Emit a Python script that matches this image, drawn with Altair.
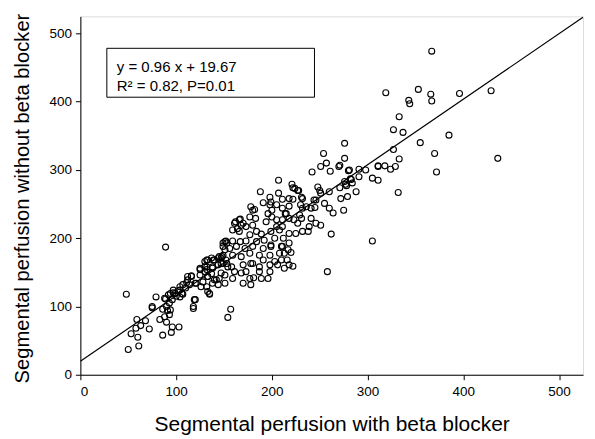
import altair as alt
import pandas as pd

# Segmental perfusion: with beta blocker (x) vs without beta blocker (y)
with_bb = [
    48, 79, 75, 59, 68, 58, 63, 53, 72, 60, 50, 61, 83, 86, 90, 96, 95, 103, 89, 75,
    89, 92, 94, 97, 93, 90, 86, 91, 94, 93, 88, 99, 102, 104, 107, 110, 111, 112, 107, 100,
    96, 104, 118, 120, 88,
    151, 153, 149, 139, 133, 144, 148, 147, 153, 125, 130, 125, 133, 137, 140, 145, 151, 144, 135, 116,
    112, 120, 114, 104, 97, 106, 119, 118,
    116, 125, 121, 126, 133, 132,
    207, 188, 207, 198, 199, 198, 191, 211, 211, 214, 178, 180, 196, 194, 205, 177, 166, 168, 161, 159,
    166, 180, 184, 177, 189, 199, 208, 203, 212, 192, 184, 173, 167, 159, 152, 149, 156, 151, 163, 172,
    180, 191, 199, 211, 208, 198, 187, 177, 168, 159, 147, 140, 132, 130, 138, 149, 158, 170, 178, 187,
    198, 206, 216, 217, 213,
    157, 154, 135, 132, 138, 128, 142, 133, 132, 138, 130, 137, 145, 149, 152, 144, 147, 159, 161, 154,
    151, 170, 178, 177, 181, 189, 196, 187, 198, 210, 218, 222, 213, 220, 210, 218, 199, 203, 191, 180,
    168, 173,
    276, 254, 276, 257, 251, 271, 242, 261, 281, 291, 298, 291, 283, 276, 221, 228, 222, 248, 250, 251,
    218, 232, 260, 271, 278, 288, 272, 279, 305, 311, 311, 205, 218, 230, 232, 236, 241, 245, 246, 255,
    260, 264, 275, 200, 200, 211, 215, 218, 223, 229, 231, 227, 241, 246, 251, 239, 232, 238, 225, 218,
    211, 205, 262,
    258, 224, 227, 222, 231, 244, 280,
    367, 319, 353, 366, 367, 396, 429, 343, 344, 333, 327, 337, 385, 355, 327, 370, 372, 333, 436, 332,
    311, 318, 324, 329, 270, 284, 282, 277, 305,
    182, 183, 162, 167, 170, 164, 173,
]
without_bb = [
    118, 114, 98, 81, 79, 68, 72, 60, 67, 55, 37, 42, 81, 58, 77, 70, 62, 70, 187, 100,
    111, 117, 119, 120, 105, 100, 96, 94, 95, 88, 85, 119, 123, 129, 132, 127, 135, 144, 118, 115,
    110, 114, 97, 110, 112,
    195, 193, 188, 168, 168, 171, 173, 163, 163, 156, 151, 146, 144, 148, 139, 141, 146, 132, 119, 144,
    139, 134, 132, 124, 124, 119, 110, 100,
    145, 154, 134, 129, 122, 158,
    285, 268, 266, 260, 253, 249, 252, 257, 244, 236, 246, 241, 236, 224, 227, 231, 227, 219, 222, 212,
    210, 219, 210, 205, 206, 210, 212, 200, 200, 197, 195, 196, 195, 196, 196, 193, 185, 183, 188, 185,
    188, 185, 190, 188, 178, 175, 175, 178, 173, 175, 171, 168, 168, 158, 158, 163, 158, 161, 163, 158,
    161, 161, 168, 183, 156,
    96, 84, 118, 129, 134, 136, 139, 144, 154, 156, 166, 171, 173, 175, 168, 161, 149, 141, 151, 158,
    134, 134, 132, 141, 142, 141, 141, 151, 151, 168, 161, 159, 178, 179, 188, 193, 188, 166, 168, 163,
    149, 151,
    339, 324, 317, 310, 305, 307, 297, 298, 300, 301, 300, 290, 286, 283, 279, 270, 274, 275, 270, 266,
    258, 258, 268, 274, 277, 268, 258, 261, 288, 285, 305, 249, 247, 249, 244, 246, 244, 245, 256, 251,
    244, 237, 241, 241, 231, 227, 236, 229, 227, 234, 229, 222, 229, 222, 219, 217, 210, 210, 207, 207,
    217, 217, 206,
    151, 273, 270, 257, 260, 256, 299,
    474, 413, 418, 411, 401, 412, 416, 402, 397, 378, 359, 355, 351, 340, 330, 324, 297, 316, 317, 267,
    306, 306, 301, 305, 305, 281, 287, 279, 196,
    242, 229, 224, 228, 222, 214, 217,
]

slope = 0.96
intercept = 19.67
x_range = [0, 525]
tick_vals = [0, 100, 200, 300, 400, 500]
label_lines = ["y = 0.96 x + 19.67", "R² = 0.82, P=0.01"]

x_title = "Segmental perfusion with beta blocker"
y_title = "Segmental perfusion without beta blocker"

df = pd.DataFrame({"bb": with_bb, "nobb": without_bb})
line_df = pd.DataFrame({"bb": x_range})

FONT = "Liberation Sans"
xscale = alt.Scale(domain=x_range, nice=False, zero=False)
yscale = alt.Scale(domain=x_range, nice=False, zero=False)

xaxis = alt.Axis(title=x_title, values=tick_vals, grid=False, tickSize=5, tickColor="black",
                 domainColor="black", labelColor="black", labelFont=FONT, labelFontSize=13.5,
                 labelPadding=5, titleFont=FONT, titleFontSize=21, titleFontWeight="normal",
                 titleColor="black", titlePadding=15)
yaxis = alt.Axis(title=y_title, values=tick_vals, grid=False, tickSize=5, tickColor="black",
                 domainColor="black", labelColor="black", labelFont=FONT, labelFontSize=13.5,
                 labelPadding=4, titleFont=FONT, titleFontSize=20.2, titleFontWeight="normal",
                 titleColor="black", titlePadding=16, titleY=182)

points = alt.Chart(df).mark_point(shape="circle", filled=False, color="black", size=36,
                                  strokeWidth=1.1, opacity=1).encode(
    x=alt.X("bb:Q", scale=xscale, axis=xaxis),
    y=alt.Y("nobb:Q", scale=yscale, axis=yaxis),
)

reg = alt.Chart(line_df).transform_calculate(
    fit=f"{slope} * datum.bb + {intercept}"
).mark_line(color="black", strokeWidth=1.2, clip=True).encode(
    x=alt.X("bb:Q", scale=xscale),
    y=alt.Y("fit:Q", scale=yscale),
)

box = alt.Chart(pd.DataFrame({"a": [0]})).mark_rect(fill="white", stroke="black", strokeWidth=1).encode(
    x=alt.value(26.5), x2=alt.value(234.5), y=alt.value(32), y2=alt.value(81)
)

label1 = alt.Chart(pd.DataFrame({"t": [label_lines[0]]})).mark_text(
    align="left", baseline="middle", font=FONT, fontSize=15, color="black"
).encode(x=alt.value(36.5), y=alt.value(51), text="t:N")

label2 = alt.Chart(pd.DataFrame({"t": [label_lines[1]]})).mark_text(
    align="left", baseline="middle", font=FONT, fontSize=15, color="black"
).encode(x=alt.value(36.5), y=alt.value(70), text="t:N")

chart = alt.layer(points, reg, box, label1, label2).properties(
    width=503.5, height=359,
    autosize=alt.AutoSizeParams(type="none"),
    padding={"left": 72.5, "top": 8, "right": 4, "bottom": 64},
).configure_view(stroke="black", strokeWidth=1).configure(background="white")

chart.save("out.html", embed_options={"renderer": "svg", "actions": False})
